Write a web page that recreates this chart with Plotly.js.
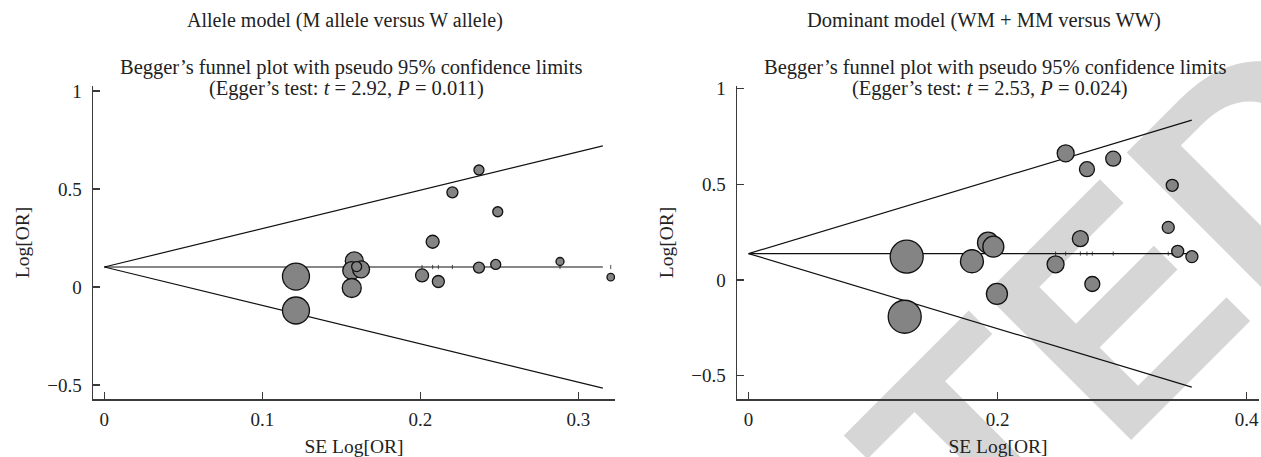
<!DOCTYPE html>
<html>
<head>
<meta charset="utf-8">
<script src="https://cdn.plot.ly/plotly-3.0.1.min.js"></script>
<style>
  html, body { margin:0; padding:0; background:#fff; overflow:hidden; }
  #wrap { position:relative; width:1261px; height:457px; overflow:hidden; }
  #wm { position:absolute; left:684px; top:740px; transform: translate(-50%,-50%) rotate(-45deg);
        font-family:"Liberation Sans", Arial, sans-serif; font-weight:bold; font-size:300px; line-height:1;
        color:#d6d6d6; white-space:nowrap; z-index:0; user-select:none; }
  #chart { position:absolute; left:0; top:0; width:1261px; height:457px; z-index:1; }
</style>
</head>
<body>
<div id="wrap">
  <div id="wm">RETRACTED</div>
  <div id="chart"></div>
</div>
<script>
// ---------- Data: Allele model (left) ----------
const alleleSE    = [0.1213, 0.1213, 0.1582, 0.1566, 0.1625, 0.1597, 0.1566, 0.2011, 0.2114, 0.2078, 0.2203, 0.2371, 0.2371, 0.2477, 0.2490, 0.2884, 0.3205];
const alleleLogOR = [0.053, -0.120, 0.133, 0.084, 0.090, 0.104, -0.005, 0.059, 0.028, 0.231, 0.483, 0.597, 0.099, 0.115, 0.384, 0.130, 0.050];
const alleleWeight = [27, 27, 18, 18, 17, 10, 19, 13, 12, 13, 11, 10, 11, 10, 10, 8, 7.5];
const alleleFunnelSE    = [0, 0.3155];
const alleleFunnelMid   = [0.102, 0.102];
const alleleFunnelUpper = [0.102, 0.720];
const alleleFunnelLower = [0.102, -0.516];

// ---------- Data: Dominant model (right) ----------
const domSE    = [0.1270, 0.1254, 0.1794, 0.1923, 0.1966, 0.1995, 0.2466, 0.2665, 0.2761, 0.2547, 0.2718, 0.2929, 0.3403, 0.3371, 0.3447, 0.3561];
const domLogOR = [0.122, -0.192, 0.098, 0.195, 0.174, -0.073, 0.082, 0.216, -0.021, 0.662, 0.579, 0.634, 0.495, 0.275, 0.150, 0.122];
const domWeight = [33, 33, 23, 21, 21, 21, 17, 16, 15, 17, 15, 15, 12, 12, 12, 12];
const domFunnelSE    = [0, 0.356];
const domFunnelMid   = [0.138, 0.138];
const domFunnelUpper = [0.138, 0.836];
const domFunnelLower = [0.138, -0.560];

// ---------- Text ----------
const panelTitles = ['Allele model (M allele versus W allele)', 'Dominant model (WM + MM versus WW)'];
const plotTitle = 'Begger\u2019s funnel plot with pseudo 95% confidence limits';
const eggerT = ['2.92', '2.53'];
const eggerP = ['0.011', '0.024'];
const xTitle = 'SE Log[OR]';
const yTitle = 'Log[OR]';
const yTicks = [-0.5, 0, 0.5, 1];
const xTicksLeft = [0, 0.1, 0.2, 0.3];
const xTicksRight = [0, 0.2, 0.4];

const W = 1261, H = 457;
const px = v => v / W;
const py = v => 1 - v / H;

function lineTrace(x, y, xa, ya) {
  return {x, y, xaxis: xa, yaxis: ya, type: 'scatter', mode: 'lines',
          line: {color: '#111', width: 1.2}, hoverinfo: 'skip'};
}
function rugTrace(se, mid, xa, ya) {
  return {x: se, y: se.map(() => mid), xaxis: xa, yaxis: ya, type: 'scatter', mode: 'markers',
          marker: {symbol: 'line-ns', size: 3, opacity: 1, line: {color: '#222', width: 0.8}}, hoverinfo: 'skip'};
}
function pointTrace(se, lor, w, xa, ya) {
  return {x: se, y: lor, xaxis: xa, yaxis: ya, type: 'scatter', mode: 'markers',
          marker: {size: w, opacity: 1, color: '#848484', line: {color: '#111', width: 1.3}}};
}

const traces = [
  lineTrace(alleleFunnelSE, alleleFunnelUpper, 'x', 'y'),
  lineTrace(alleleFunnelSE, alleleFunnelLower, 'x', 'y'),
  lineTrace(alleleFunnelSE, alleleFunnelMid, 'x', 'y'),
  rugTrace(alleleSE, alleleFunnelMid[0], 'x', 'y'),
  pointTrace(alleleSE, alleleLogOR, alleleWeight, 'x', 'y'),
  lineTrace(domFunnelSE, domFunnelUpper, 'x2', 'y2'),
  lineTrace(domFunnelSE, domFunnelLower, 'x2', 'y2'),
  lineTrace(domFunnelSE, domFunnelMid, 'x2', 'y2'),
  rugTrace(domSE, domFunnelMid[0], 'x2', 'y2'),
  pointTrace(domSE, domLogOR, domWeight, 'x2', 'y2')
];

const axisCommon = {
  showline: true, linecolor: '#3a3a3a', linewidth: 1.5,
  ticks: 'inside', ticklen: 7, tickwidth: 1.3, tickcolor: '#3a3a3a',
  showgrid: false, zeroline: false, automargin: false, fixedrange: true,
  tickfont: {size: 19, color: '#222'}
};

const yDomain = [py(399), py(86)];

const layout = {
  width: W, height: H,
  margin: {l: 0, r: 0, t: 0, b: 0},
  paper_bgcolor: 'rgba(0,0,0,0)', plot_bgcolor: 'rgba(0,0,0,0)',
  showlegend: false,
  font: {family: '"Liberation Serif", "Times New Roman", serif', size: 19, color: '#222'},
  xaxis: Object.assign({}, axisCommon, {
    domain: [px(93), px(615)], range: [-0.00715, 0.3232], anchor: 'y',
    tickvals: xTicksLeft, ticklabelstandoff: 3,
    title: {text: xTitle, standoff: 10, font: {size: 19.5}}
  }),
  yaxis: Object.assign({}, axisCommon, {
    domain: yDomain, range: [-0.5714, 1.0255], anchor: 'x',
    tickvals: yTicks, ticklabelstandoff: 6,
    title: {text: yTitle, standoff: 12, font: {size: 19.5}}
  }),
  xaxis2: Object.assign({}, axisCommon, {
    domain: [px(737), px(1259)], range: [-0.00932, 0.41], anchor: 'y2',
    tickvals: xTicksRight, ticklabelstandoff: 3,
    title: {text: xTitle, standoff: 10, font: {size: 19.5}}
  }),
  yaxis2: Object.assign({}, axisCommon, {
    domain: yDomain, range: [-0.622, 1.014], anchor: 'x2',
    tickvals: yTicks, ticklabelstandoff: 6,
    title: {text: yTitle, standoff: 12, font: {size: 19.5}}
  }),
  annotations: [
    {text: panelTitles[0], x: px(345), y: py(20), font: {size: 20, color: '#222'}},
    {text: plotTitle, x: px(351), y: py(68)},
    {text: '(Egger\u2019s test: <i>t</i> = ' + eggerT[0] + ', <i>P</i> = ' + eggerP[0] + ')', x: px(346), y: py(89)},
    {text: panelTitles[1], x: px(984), y: py(20), font: {size: 20.5, color: '#222'}},
    {text: plotTitle, x: px(995), y: py(68)},
    {text: '(Egger\u2019s test: <i>t</i> = ' + eggerT[1] + ', <i>P</i> = ' + eggerP[1] + ')', x: px(990), y: py(89)}
  ].map(a => Object.assign({xref: 'paper', yref: 'paper', xanchor: 'center', yanchor: 'middle',
                             showarrow: false, font: {size: 20.5, color: '#222'}}, a))
};

Plotly.newPlot('chart', traces, layout, {displayModeBar: false, staticPlot: true});
</script>
</body>
</html>
